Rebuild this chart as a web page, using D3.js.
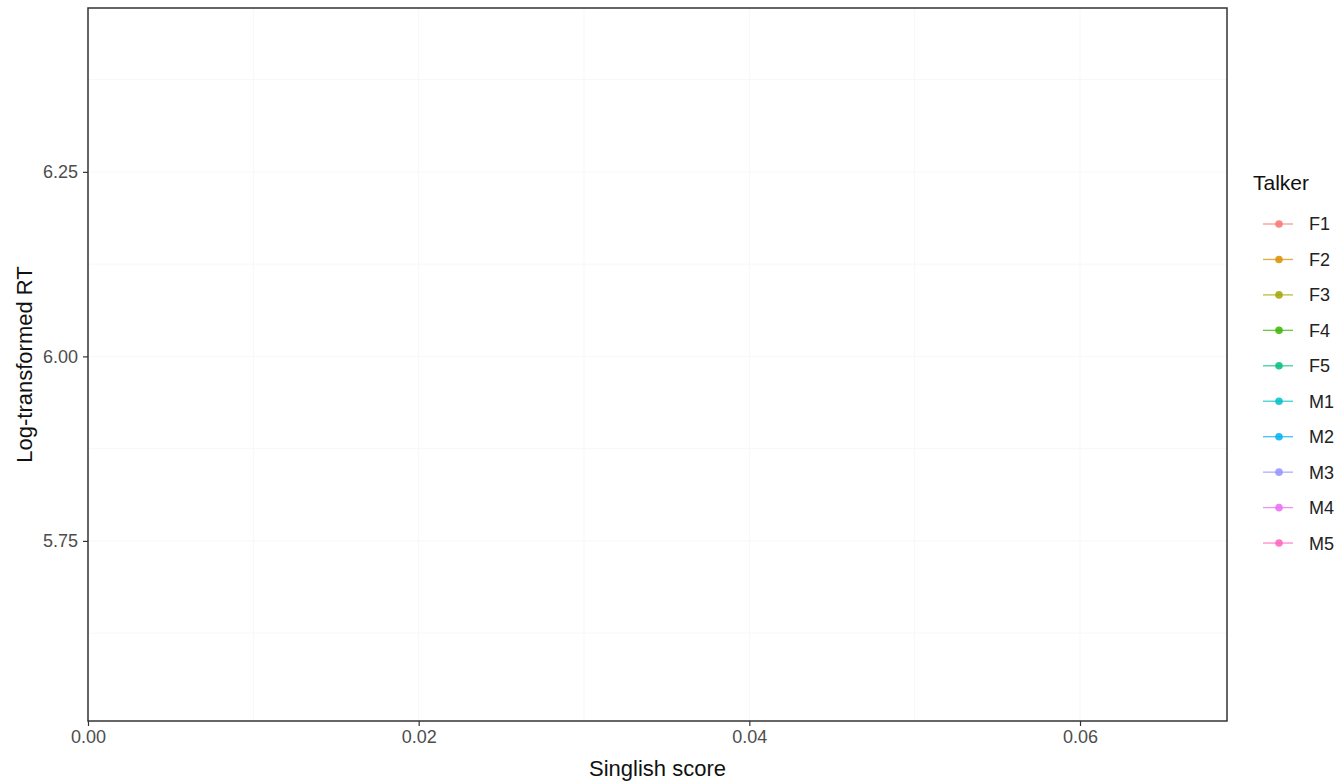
<!DOCTYPE html>
<html>
<head>
<meta charset="utf-8">
<script src="https://cdn.jsdelivr.net/npm/d3@7"></script>
<style>
  html, body { margin: 0; padding: 0; background: #fff; }
  svg { display: block; font-family: "Liberation Sans", Arial, sans-serif; }
</style>
</head>
<body>
<svg id="chart" width="1338" height="781"></svg>
<script>
// ---- data ----
const talkers = ["F1", "F2", "F3", "F4", "F5", "M1", "M2", "M3", "M4", "M5"];
const talkerColors = ["#F8766D", "#D89000", "#A3A500", "#39B600", "#00BF7D",
                      "#00BFC4", "#00B0F6", "#9590FF", "#E76BF3", "#FF62BC"];
// No observations are visible in the reference panel (empty plot)
const singlishScore = [];
const logRT = [];
const pointTalker = [];
const xTicks = [0.00, 0.02, 0.04, 0.06];
const xTickLabels = ["0.00", "0.02", "0.04", "0.06"];
const yTicks = [5.75, 6.00, 6.25];
const yTickLabels = ["5.75", "6.00", "6.25"];
const xMinor = [0.01, 0.03, 0.05];
const yMinor = [5.625, 5.875, 6.125, 6.375];

// ---- layout ----
const svg = d3.select("#chart");
const panel = { left: 88, top: 8, right: 1227, bottom: 721 };

const x = d3.scaleLinear().domain([0, 0.06889]).range([panel.left, panel.right]);
const y = d3.scaleLinear().domain([5.506, 6.472]).range([panel.bottom, panel.top]);
const color = d3.scaleOrdinal().domain(talkers).range(talkerColors);

// faint grid
const grid = svg.append("g");
grid.selectAll("line.vx").data(xTicks.concat(xMinor)).join("line")
  .attr("x1", d => x(d)).attr("x2", d => x(d))
  .attr("y1", panel.top).attr("y2", panel.bottom)
  .attr("stroke", "#f7f7f7").attr("stroke-width", 1);
grid.selectAll("line.hy").data(yTicks.concat(yMinor)).join("line")
  .attr("x1", panel.left).attr("x2", panel.right)
  .attr("y1", d => y(d)).attr("y2", d => y(d))
  .attr("stroke", "#f7f7f7").attr("stroke-width", 1);

// points (none)
const pts = singlishScore.map((v, i) => ({ x: v, y: logRT[i], t: pointTalker[i] }));
svg.append("g").selectAll("circle").data(pts).join("circle")
  .attr("cx", d => x(d.x)).attr("cy", d => y(d.y)).attr("r", 3)
  .attr("fill", d => color(d.t));

// axes
const xAxis = d3.axisBottom(x).tickValues(xTicks)
  .tickFormat((d, i) => xTickLabels[i]).tickSize(5).tickPadding(4);
const gx = svg.append("g").attr("transform", `translate(0,${panel.bottom})`).call(xAxis);
gx.select(".domain").remove();
gx.selectAll(".tick line").attr("stroke", "#333").attr("stroke-width", 1.2);
gx.selectAll(".tick text").attr("fill", "#4d4d4d").attr("font-size", 18)
  .attr("font-family", "Liberation Sans, Arial, sans-serif");

const yAxis = d3.axisLeft(y).tickValues(yTicks)
  .tickFormat((d, i) => yTickLabels[i]).tickSize(5).tickPadding(5);
const gy = svg.append("g").attr("transform", `translate(${panel.left},0)`).call(yAxis);
gy.select(".domain").remove();
gy.selectAll(".tick line").attr("stroke", "#333").attr("stroke-width", 1.2);
gy.selectAll(".tick text").attr("fill", "#4d4d4d").attr("font-size", 18)
  .attr("font-family", "Liberation Sans, Arial, sans-serif");

// panel border
svg.append("rect")
  .attr("x", panel.left).attr("y", panel.top)
  .attr("width", panel.right - panel.left).attr("height", panel.bottom - panel.top)
  .attr("fill", "none").attr("stroke", "#333").attr("stroke-width", 1.5);

// axis titles
svg.append("text")
  .attr("x", (panel.left + panel.right) / 2).attr("y", 776)
  .attr("text-anchor", "middle").attr("font-size", 22).attr("fill", "#111")
  .text("Singlish score");
svg.append("text")
  .attr("transform", `translate(32,${(panel.top + panel.bottom) / 2}) rotate(-90)`)
  .attr("text-anchor", "middle").attr("font-size", 22).attr("fill", "#111")
  .text("Log-transformed RT");

// legend
const lg = svg.append("g");
lg.append("text").attr("x", 1253).attr("y", 190)
  .attr("font-size", 21).attr("fill", "#111").text("Talker");
const item = lg.selectAll("g.item").data(talkers).join("g")
  .attr("transform", (d, i) => `translate(0,${224 + i * 35.45})`);
item.append("line").attr("x1", 1263).attr("x2", 1293).attr("y1", 0).attr("y2", 0)
  .attr("stroke", d => color(d)).attr("stroke-width", 1.3).attr("stroke-opacity", 0.75);
item.append("circle").attr("cx", 1279).attr("cy", 0).attr("r", 3.8)
  .attr("fill", d => color(d)).attr("fill-opacity", 0.85);
item.append("text").attr("x", 1309).attr("y", 0).attr("dy", "0.36em")
  .attr("font-size", 18).attr("fill", "#222").text(d => d);
</script>
</body>
</html>
